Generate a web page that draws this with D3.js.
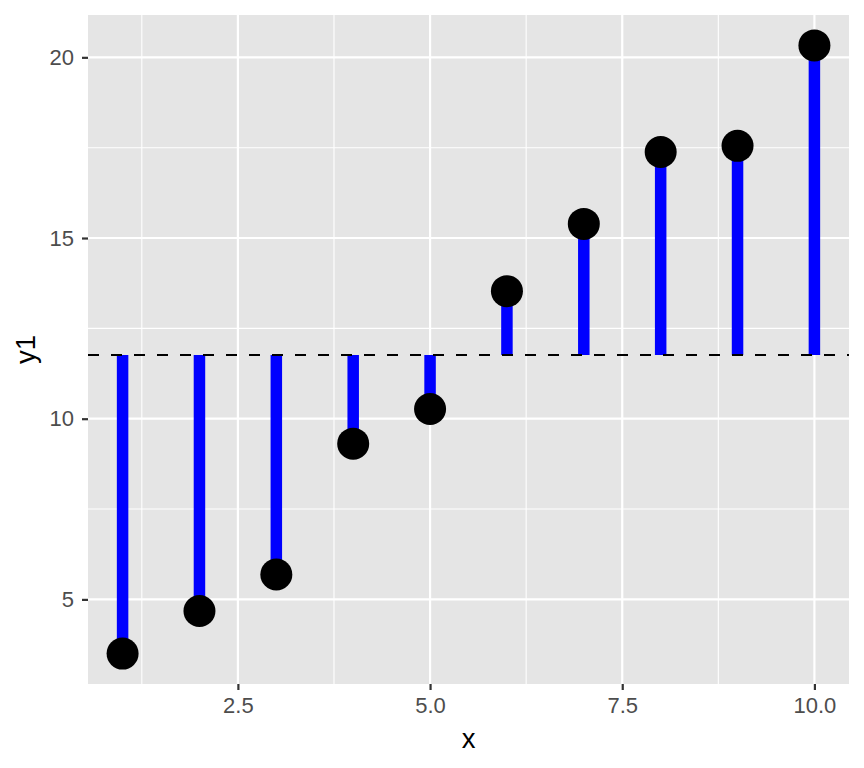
<!DOCTYPE html>
<html lang="en">
<head>
<meta charset="utf-8">
<script src="https://d3js.org/d3.v7.min.js"></script>
<style>
  body { margin: 0; background: #fff; }
  text { font-family: "Liberation Sans", Arial, sans-serif; }
</style>
</head>
<body>
<script>
// data
const xs = [1, 2, 3, 4, 5, 6, 7, 8, 9, 10];
const y1 = [3.50, 4.68, 5.69, 9.31, 10.27, 13.53, 15.39, 17.38, 17.55, 20.33];
const xTicks = [2.5, 5.0, 7.5, 10.0];
const xMinor = [1.25, 3.75, 6.25, 8.75];
const yTicks = [5, 10, 15, 20];
const yMinor = [7.5, 12.5, 17.5];

const width = 864, height = 768;
const margin = {top: 15, right: 15, bottom: 84, left: 88};

// ggplot-style 5% expansion
function expand(ext) {
  const r = ext[1] - ext[0];
  return [ext[0] - 0.05 * r, ext[1] + 0.05 * r];
}

const x = d3.scaleLinear()
  .domain(expand(d3.extent(xs)))
  .range([margin.left, width - margin.right]);
const y = d3.scaleLinear()
  .domain(expand(d3.extent(y1)))
  .range([height - margin.bottom, margin.top]);

const meanY = d3.mean(y1);
const data = xs.map((d, i) => ({x: d, y: y1[i]}));

const svg = d3.select("body").append("svg")
  .attr("width", width)
  .attr("height", height);

// panel
svg.append("rect")
  .attr("x", margin.left).attr("y", margin.top)
  .attr("width", width - margin.left - margin.right)
  .attr("height", height - margin.top - margin.bottom)
  .attr("fill", "#e5e5e5");

const grid = svg.append("g");
grid.selectAll(".xmin").data(xMinor).join("line")
  .attr("x1", d => x(d)).attr("x2", d => x(d))
  .attr("y1", margin.top).attr("y2", height - margin.bottom)
  .attr("stroke", "#fff").attr("stroke-width", 1.1);
grid.selectAll(".ymin").data(yMinor).join("line")
  .attr("y1", d => y(d)).attr("y2", d => y(d))
  .attr("x1", margin.left).attr("x2", width - margin.right)
  .attr("stroke", "#fff").attr("stroke-width", 1.1);
grid.selectAll(".xmaj").data(xTicks).join("line")
  .attr("x1", d => x(d)).attr("x2", d => x(d))
  .attr("y1", margin.top).attr("y2", height - margin.bottom)
  .attr("stroke", "#fff").attr("stroke-width", 2.2);
grid.selectAll(".ymaj").data(yTicks).join("line")
  .attr("y1", d => y(d)).attr("y2", d => y(d))
  .attr("x1", margin.left).attr("x2", width - margin.right)
  .attr("stroke", "#fff").attr("stroke-width", 2.2);

// stems from mean to each point
svg.append("g").selectAll("line").data(data).join("line")
  .attr("x1", d => x(d.x)).attr("x2", d => x(d.x))
  .attr("y1", y(meanY)).attr("y2", d => y(d.y))
  .attr("stroke", "#0000ff").attr("stroke-width", 11.5);

// dashed mean line
svg.append("line")
  .attr("x1", margin.left).attr("x2", width - margin.right)
  .attr("y1", y(meanY)).attr("y2", y(meanY))
  .attr("stroke", "#000").attr("stroke-width", 2.2)
  .attr("stroke-dasharray", "11,12");

// points
svg.append("g").selectAll("circle").data(data).join("circle")
  .attr("cx", d => x(d.x)).attr("cy", d => y(d.y))
  .attr("r", 16).attr("fill", "#000");

// axes
const xAxis = svg.append("g")
  .attr("transform", `translate(0,${height - margin.bottom})`)
  .call(d3.axisBottom(x).tickValues(xTicks).tickFormat(d3.format(".1f"))
    .tickSize(6).tickPadding(7));
const yAxis = svg.append("g")
  .attr("transform", `translate(${margin.left},0)`)
  .call(d3.axisLeft(y).tickValues(yTicks).tickSize(6).tickPadding(8));

[xAxis, yAxis].forEach(a => {
  a.attr("font-size", null).attr("font-family", null);
  a.select(".domain").remove();
  a.selectAll(".tick line").attr("stroke", "#333").attr("stroke-width", 2.2);
  a.selectAll(".tick text").attr("fill", "#4d4d4d")
    .style("font-size", "22px");
});

// axis titles
svg.append("text")
  .attr("x", (margin.left + width - margin.right) / 2)
  .attr("y", 748)
  .attr("text-anchor", "middle")
  .style("font-size", "27.5px")
  .text("x");
svg.append("text")
  .attr("transform", `translate(35,${(margin.top + height - margin.bottom) / 2}) rotate(-90)`)
  .attr("text-anchor", "middle")
  .style("font-size", "27.5px")
  .text("y1");
</script>
</body>
</html>
